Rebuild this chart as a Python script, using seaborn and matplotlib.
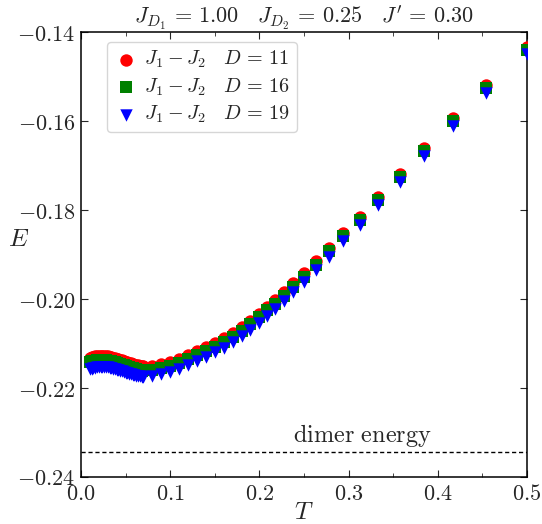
import numpy as np
import pandas as pd
import matplotlib
matplotlib.use("Agg")
import matplotlib.pyplot as plt
import seaborn as sns
from matplotlib.ticker import MultipleLocator, FuncFormatter

# temperatures (dense grid at low T, then coarser)
T = [0.010, 0.012, 0.014, 0.016, 0.018, 0.020, 0.022, 0.024, 0.026, 0.028,
     0.030, 0.032, 0.034, 0.036, 0.038, 0.040, 0.042, 0.044, 0.046, 0.048,
     0.050, 0.052, 0.054, 0.056, 0.058, 0.060, 0.062, 0.064, 0.066, 0.068,
     0.07, 0.08, 0.09, 0.10, 0.11, 0.12, 0.13, 0.14, 0.15, 0.16, 0.17, 0.18,
     0.19, 0.20, 0.2083, 0.2174, 0.2273, 0.2381, 0.25, 0.2632, 0.2778, 0.2941,
     0.3125, 0.3333, 0.3571, 0.3846, 0.4167, 0.4545, 0.5]

E_D11 = [-0.21315, -0.21303, -0.21294, -0.21285, -0.21279, -0.21274, -0.21272, -0.21272, -0.21274, -0.21279,
         -0.21285, -0.21294, -0.21303, -0.21315, -0.21326, -0.21339, -0.21353, -0.21366, -0.21380, -0.21393,
         -0.21407, -0.21420, -0.21434, -0.21447, -0.21461, -0.21472, -0.21483, -0.21492, -0.21501, -0.21508,
         -0.21510, -0.21497, -0.21461, -0.21411, -0.21344, -0.21263, -0.21175, -0.21085, -0.20989, -0.20881,
         -0.20760, -0.20629, -0.20485, -0.20326, -0.20175, -0.20022, -0.19843, -0.19640, -0.19416, -0.19157,
         -0.18854, -0.18517, -0.18146, -0.17708, -0.17180, -0.16596, -0.15933, -0.15191, -0.14326]

E_D16 = [-0.21415, -0.21403, -0.21394, -0.21385, -0.21379, -0.21374, -0.21372, -0.21372, -0.21374, -0.21379,
         -0.21385, -0.21394, -0.21403, -0.21415, -0.21426, -0.21439, -0.21453, -0.21466, -0.21480, -0.21493,
         -0.21507, -0.21520, -0.21534, -0.21547, -0.21561, -0.21572, -0.21583, -0.21592, -0.21601, -0.21608,
         -0.21605, -0.21590, -0.21553, -0.21502, -0.21434, -0.21352, -0.21263, -0.21172, -0.21075, -0.20967,
         -0.20845, -0.20713, -0.20568, -0.20409, -0.20257, -0.20103, -0.19923, -0.19720, -0.19495, -0.19236,
         -0.18932, -0.18595, -0.18224, -0.17785, -0.17257, -0.16673, -0.16010, -0.15268, -0.14402]

E_D19 = [-0.21575, -0.21562, -0.21552, -0.21543, -0.21536, -0.21531, -0.21528, -0.21527, -0.21529, -0.21533,
         -0.21539, -0.21547, -0.21556, -0.21567, -0.21578, -0.21590, -0.21603, -0.21616, -0.21629, -0.21642,
         -0.21655, -0.21667, -0.21680, -0.21692, -0.21705, -0.21715, -0.21725, -0.21733, -0.21740, -0.21746,
         -0.21745, -0.21725, -0.21685, -0.21631, -0.21562, -0.21478, -0.21388, -0.21297, -0.21199, -0.21090,
         -0.20967, -0.20835, -0.20689, -0.20529, -0.20377, -0.20222, -0.20041, -0.19837, -0.19611, -0.19350,
         -0.19045, -0.18707, -0.18335, -0.17895, -0.17365, -0.16780, -0.16115, -0.15371, -0.14500]

dimer_energy = -0.2344

series = [
    ("$J_1 - J_2 \\quad D\\, =\\, 11$", E_D11, "red", "o"),
    ("$J_1 - J_2 \\quad D\\, =\\, 16$", E_D16, "green", "s"),
    ("$J_1 - J_2 \\quad D\\, =\\, 19$", E_D19, "blue", "v"),
]

sns.set_style("ticks")
plt.rcParams["mathtext.fontset"] = "cm"
plt.rcParams["font.family"] = ["DejaVu Serif"]

fig = plt.figure(figsize=(5.42, 5.24), dpi=100)
ax = fig.add_axes([0.1494, 0.0897, 0.8229, 0.8492])

for label, E, color, marker in series:
    df = pd.DataFrame({"T": T, "E": E})
    sns.scatterplot(data=df, x="T", y="E", ax=ax, color=color, marker=marker,
                    s=80, linewidth=0, label=label, zorder=3)

ax.axhline(dimer_energy, color="black", linestyle="--", linewidth=1.0, dashes=(3, 2))
ax.text(0.316, dimer_energy + 0.0038, "$\\mathrm{dimer\\ energy}$", fontsize=17.5,
        ha="center", va="center")

ax.set_xlim(0.0, 0.5)
ax.set_ylim(-0.24, -0.14)
ax.xaxis.set_major_locator(MultipleLocator(0.1))
ax.xaxis.set_minor_locator(MultipleLocator(0.05))
ax.yaxis.set_major_locator(MultipleLocator(0.02))
ax.xaxis.set_major_formatter(FuncFormatter(lambda v, p: f"${v:.1f}$"))
ax.yaxis.set_major_formatter(FuncFormatter(lambda v, p: f"${v:.2f}$"))
ax.tick_params(which="both", direction="in", top=True, right=True, labelsize=16)
ax.tick_params(which="major", length=5, pad=4)
ax.tick_params(which="minor", length=3)
for sp in ax.spines.values():
    sp.set_linewidth(1.1)
    sp.set_color("black")

ax.set_xlabel("$T$", fontsize=18, va="center")
ax.xaxis.set_label_coords(0.5, -0.079)
ax.set_ylabel("$E$", fontsize=18, rotation=0, va="center", ha="center")
ax.yaxis.set_label_coords(-0.141, 0.533)
ax.set_title("$J_{D_1}\\, =\\, 1.00 \\quad J_{D_2}\\, =\\, 0.25 \\quad J'\\, =\\, 0.30$",
             fontsize=16, pad=5)

leg = ax.legend(loc="upper left", fontsize=14.5, frameon=True, fancybox=True,
                borderpad=0.35, handletextpad=0.3, labelspacing=0.3, handlelength=1.2,
                borderaxespad=0.0, bbox_to_anchor=(0.058, 0.978))
leg.get_frame().set_edgecolor("0.8")

fig.savefig("out.png", dpi=100)
